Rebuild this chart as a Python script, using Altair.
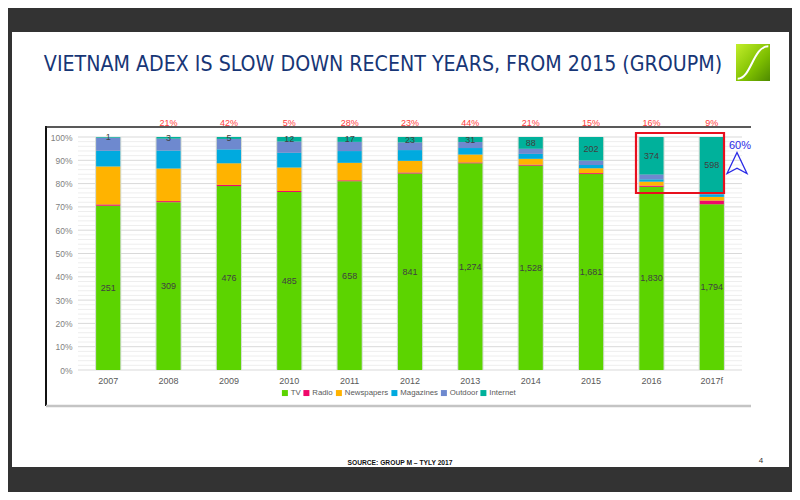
import altair as alt
import pandas as pd

years = ["2007", "2008", "2009", "2010", "2011", "2012", "2013", "2014", "2015", "2016", "2017f"]
series = ["TV", "Radio", "Newspapers", "Magazines", "Outdoor", "Internet"]
colors = ["#5CD400", "#F0086A", "#FFB300", "#00AADF", "#6E89CF", "#00B19B"]

tv = [251, 309, 476, 485, 658, 841, 1274, 1528, 1681, 1830, 1794]
radio = [2, 2, 3, 3, 3, 4, 5, 7, 8, 12, 40]
newspapers = [58, 60, 56, 64, 61, 50, 49, 44, 42, 40, 40]
magazines = [24, 33, 36, 40, 41, 46, 40, 37, 28, 23, 28]
outdoor = [20, 22, 27, 31, 32, 33, 37, 38, 38, 49, 22]
internet = [1, 3, 5, 12, 17, 23, 31, 88, 202, 374, 598]
growth = ["", "21%", "42%", "5%", "28%", "23%", "44%", "21%", "15%", "16%", "9%"]

y_major = [0, 0.1, 0.2, 0.3, 0.4, 0.5, 0.6, 0.7, 0.8, 0.9, 1.0]
y_minor = [0.02, 0.04, 0.06, 0.08, 0.12, 0.14, 0.16, 0.18, 0.22, 0.24, 0.26, 0.28,
           0.32, 0.34, 0.36, 0.38, 0.42, 0.44, 0.46, 0.48, 0.52, 0.54, 0.56, 0.58,
           0.62, 0.64, 0.66, 0.68, 0.72, 0.74, 0.76, 0.78, 0.82, 0.84, 0.86, 0.88,
           0.92, 0.94, 0.96, 0.98]

title_text = "VIETNAM ADEX IS SLOW DOWN RECENT YEARS, FROM 2015 (GROUPM)"
source_text = "SOURCE: GROUP M \u2013 TYLY 2017"

all_vals = [tv, radio, newspapers, magazines, outdoor, internet]
rows = []
for i, yr in enumerate(years):
    for k, s in enumerate(series):
        rows.append({"year": yr, "series": s, "value": all_vals[k][i], "order": k})
df = pd.DataFrame(rows)
gdf = pd.DataFrame({"year": years, "growth": growth})
ydf = pd.DataFrame({"year": years})
dummy = pd.DataFrame({"a": [0]})

FONT = "Liberation Sans"
W, H = 664, 233

xscale = alt.Scale(domain=years, paddingInner=0, paddingOuter=0)
yscale = alt.Scale(domain=[0, 1], nice=False)
xaxis = alt.Axis(labelAngle=0, ticks=False, domain=False, labelPadding=6, title=None,
                 labelColor="#595959", labelFontSize=9, labelFont=FONT, zindex=1, grid=False)
yaxis = alt.Axis(values=y_major, format=".0%", ticks=False, domain=False, grid=False,
                 labelPadding=6, title=None, labelColor="#7F7F7F", labelFontSize=8.5,
                 labelFont=FONT, zindex=1)

X = alt.X("year:N", scale=xscale, axis=xaxis, sort=years)

slide = alt.Chart(dummy).mark_rect(color="white").encode(
    x=alt.value(-66), x2=alt.value(711), y=alt.value(-105), y2=alt.value(330))

frame_left = alt.Chart(dummy).mark_rule(color="#111111", strokeWidth=2).encode(
    x=alt.value(-32), y=alt.value(-11), y2=alt.value(269))
frame_top = alt.Chart(dummy).mark_rule(color="#222222", strokeWidth=1.5).encode(
    x=alt.value(-33), x2=alt.value(673), y=alt.value(-10))
frame_bottom = alt.Chart(dummy).mark_rule(color="#C4C4C4", strokeWidth=2.5).encode(
    x=alt.value(-32), x2=alt.value(673), y=alt.value(269))

minor = alt.Chart(pd.DataFrame({"v": y_minor})).mark_rule(color="#EEEEEE", strokeWidth=1).encode(
    y=alt.Y("v:Q", scale=yscale, axis=yaxis), x=alt.value(0), x2=alt.value(W))
major = alt.Chart(pd.DataFrame({"v": y_major})).mark_rule(color="#D9D9D9", strokeWidth=1).encode(
    y=alt.Y("v:Q", scale=yscale, axis=yaxis), x=alt.value(0), x2=alt.value(W))

outline = alt.Chart(ydf).mark_bar(width=alt.RelativeBandSize(0.435), color="#D5DDD5").encode(
    x=X, y=alt.Y(datum=1, type="quantitative", scale=yscale, axis=yaxis), y2=alt.Y2(datum=0))

bars = alt.Chart(df).mark_bar(width=alt.RelativeBandSize(0.4)).encode(
    x=X,
    y=alt.Y("value:Q", stack="normalize", scale=yscale, axis=yaxis),
    color=alt.Color("series:N", scale=alt.Scale(domain=series, range=colors),
                    legend=alt.Legend(orient="none", legendX=203, legendY=252,
                                      direction="horizontal", title=None,
                                      symbolType="square", symbolSize=36,
                                      symbolStrokeWidth=0, labelFontSize=7.8,
                                      labelColor="#595959", labelFont=FONT,
                                      columnPadding=1.5, labelOffset=2, padding=0)),
    order=alt.Order("order:Q"),
)

labels = alt.Chart(df).transform_stack(
    stack="value", groupby=["year"], sort=[alt.SortField("order")], offset="normalize",
    as_=["y0", "y1"]
).transform_calculate(
    mid="(datum.y0 + datum.y1) / 2"
).transform_filter(
    "datum.series == 'TV' || datum.series == 'Internet'"
).mark_text(font=FONT, fontSize=9, color="#404040").encode(
    x=X, y=alt.Y("mid:Q", scale=yscale, axis=yaxis),
    text=alt.Text("value:Q", format=","))

growth_txt = alt.Chart(gdf).transform_filter("datum.growth != ''").mark_text(
    font=FONT, fontSize=9, color="#FF3B3B").encode(
    x=X, y=alt.value(-14), text="growth:N")

box = alt.Chart(dummy).mark_rect(fillOpacity=0, stroke="#E8101E", strokeWidth=2.2).encode(
    x=alt.value(558), x2=alt.value(646), y=alt.value(-4), y2=alt.value(56))

sixty = alt.Chart(dummy).mark_text(text="60%", font=FONT, fontSize=11, color="#2A2AE6").encode(
    x=alt.value(662), y=alt.value(9))

arrow = alt.Chart(dummy).mark_point(
    shape="M0,-1 L0.95,1 L0,0.5 L-0.95,1 Z", size=441, filled=False,
    stroke="#2A2AE6", strokeWidth=1.3, opacity=1).encode(
    x=alt.value(659), y=alt.value(26))

logo = alt.Chart(dummy).mark_rect(
    color=alt.LinearGradient(gradient="linear",
                             stops=[alt.GradientStop(color="#C2EE2A", offset=0),
                                    alt.GradientStop(color="#7DBE00", offset=0.6),
                                    alt.GradientStop(color="#4E8A00", offset=1)],
                             x1=0, x2=1, y1=0, y2=1)).encode(
    x=alt.value(658), x2=alt.value(692), y=alt.value(-93), y2=alt.value(-56))
logo_curve = alt.Chart(dummy).mark_point(
    shape="M-0.85,0.9 C-0.1,0.9 0.0,-0.9 0.85,-0.9", size=1300, filled=False,
    stroke="white", strokeWidth=2, opacity=1).encode(
    x=alt.value(675), y=alt.value(-74.5))

title = alt.Chart(dummy).mark_text(
    text=title_text, font="DejaVu Sans Condensed, sans-serif",
    fontSize=21.2, color="#173676", align="center", baseline="middle").encode(
    x=alt.value(305), y=alt.value(-72))

source = alt.Chart(dummy).mark_text(
    text=source_text, font=FONT, fontSize=6.7, fontWeight="bold", color="#111111").encode(
    x=alt.value(322), y=alt.value(326))

pagenum = alt.Chart(dummy).mark_text(text="4", font=FONT, fontSize=8, color="#333333").encode(
    x=alt.value(683), y=alt.value(324))

chart = alt.layer(
    slide, frame_left, frame_top, frame_bottom, minor, major, outline, bars, labels,
    growth_txt, box, sixty, arrow, logo, logo_curve, title, source, pagenum
).properties(
    width=W, height=H,
    autosize=alt.AutoSizeParams(type="none"),
    padding={"left": 70, "top": 129, "right": 50, "bottom": 122},
).configure(background="#333333").configure_view(strokeWidth=0)

chart.save("out.html", embed_options={"renderer": "svg", "actions": False})
